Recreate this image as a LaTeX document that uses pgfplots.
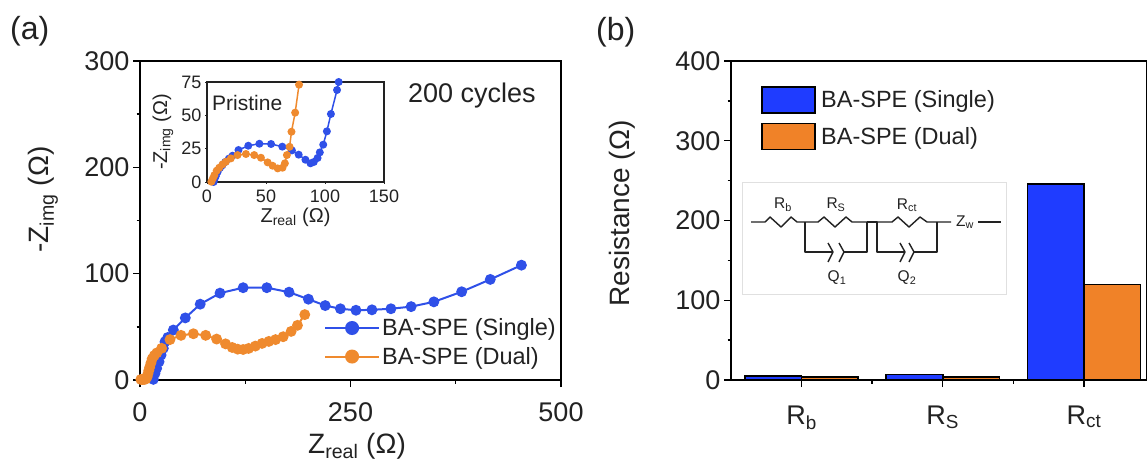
\documentclass[border=0pt]{standalone}
\usepackage{pgfplots}
\pgfplotsset{compat=1.18}
\usepackage{fontspec}
\setmainfont{Liberation Sans}
\definecolor{bluel}{HTML}{2F50E8}
\definecolor{orangel}{HTML}{EF8A2E}
\definecolor{blueb}{HTML}{1F3CFF}
\definecolor{orangeb}{HTML}{F08228}
\definecolor{txt}{HTML}{222222}
\newcommand{\fs}[1]{\fontsize{#1}{#1}\selectfont}
\pgfplotstableread{
x y
453 108
416 94.6
382 83
349 73.5
322 69
298 67
275.5 66
256.5 65.6
238 67
220 70
200 76
177 82.6
150.6 86.8
122.5 86.8
95 81.7
71.5 71.3
53.8 58.4
39.6 47
33 40
29.7 36
27.7 29.8
25 23.5
22.6 17.2
19.8 11
17.8 6.2
15.8 0.6
}\mainsingle
\pgfplotstableread{
x y
195.7 61.5
187 51.4
179.5 45.7
170 40.7
161 38
153 36.3
145 34.4
137 31.9
129 29.7
122.5 28.7
116 29
109.5 30.6
101.6 34
91 38.5
78 42
63.4 43.5
48.7 42
35.6 38
25.7 29.8
20 25.5
17 23
14.5 20
13 16
11.5 12
10.5 9
9.5 6
8.5 3
7 1
5 0.5
3 0.5
1 0.5
}\maindual
\pgfplotstableread{
x y
5.6 0
6.5 2.5
7.5 4.5
9 7.5
11 10.5
13 12.5
15.5 15
18.5 17.5
21.6 19.7
26.7 24
35 27.2
44.4 28.7
54.3 28.5
63.8 26.5
72 23.7
77.7 20.5
83.4 16.7
87.7 14
90.5 15
93.7 18
95.6 22.2
98.5 28
101.6 38
105 51
110.2 69
111.6 75
}\insetsingle
\pgfplotstableread{
x y
3.7 0.2
5 2.7
6.3 5.2
8.2 8.5
10.4 10.7
13.2 13.2
16 15.2
20.2 17.7
25.9 20.2
33 21
40 20.2
45.7 18.2
51.4 14.7
55.6 12.2
59.9 10.2
64 10.7
66 14
67.7 20.2
70 26.4
71.6 37.7
74.7 52
78 73
}\insetdual
\begin{document}
\begin{tikzpicture}[x=1pt,y=1pt]
\useasboundingbox (0,0) rectangle (1147,461);
% panel a
\begin{axis}[at={(140pt,81pt)},anchor=south west,scale only axis,width=421pt,height=319pt,
  xmin=0,xmax=500,ymin=0,ymax=300,
  axis line style={line width=2pt,black},
  tick pos=left,
  xtick={0,250,500},ytick={0,100,200,300},
  minor xtick={125,375},minor ytick={50,150,250},
  tick align=outside,tick style={line width=1.4pt,black},
  major tick length=7pt,minor tick length=3.5pt,
  /pgf/number format/assume math mode=true,
  tick label style={font=\fs{27},text=txt},
  xticklabel style={yshift=-12pt},
  xlabel={Z\textsubscript{real} (Ω)},ylabel={-Z\textsubscript{img} (Ω)},
  label style={text=txt},
  xlabel style={font=\fs{28},at={(axis description cs:0.5,0)},anchor=base,yshift=-73pt,xshift=6.5pt},
  ylabel style={font=\fs{28},at={(axis description cs:0,0.5)},anchor=center,yshift=97pt,xshift=21pt},
  legend style={at={(rel axis cs:1,0)},anchor=south east,draw=none,fill=none,font=\fs{23.5},text=txt,
    xshift=-3pt,yshift=12pt,row sep=6pt,inner sep=0pt,cells={anchor=west}},
  legend image code/.code={
    \draw[#1,mark=none,line width=2pt] (-54pt,0) -- (0pt,0);
    \fill[#1,mark=none] (-27pt,0) circle (6pt);
  },
  clip=false]
\addplot[bluel,line width=2pt,mark=*,mark size=4.4pt,mark options={fill=bluel,draw=bluel}] table {\mainsingle};
\addlegendentry{BA-SPE (Single)}
\addplot[orangel,line width=2pt,mark=*,mark size=4.4pt,mark options={fill=orangel,draw=orangel}] table {\maindual};
\addlegendentry{BA-SPE (Dual)}
\end{axis}
% inset
\begin{axis}[at={(207pt,279pt)},anchor=south west,scale only axis,width=177pt,height=100pt,
  xmin=0,xmax=150,ymin=0,ymax=75,
  axis line style={line width=1.2pt,txt},
  xtick={0,50,100,150},ytick={0,25,50,75},
  tick pos=left,
  tick align=outside,tick style={line width=0.6pt,txt},major tick length=2pt,
  /pgf/number format/assume math mode=true,
  tick label style={font=\fs{18},text=txt},
  xticklabel style={yshift=-2pt},yticklabel style={xshift=0pt},
  xlabel={Z\textsubscript{real} (Ω)},ylabel={-Z\textsubscript{img} (Ω)},
  label style={font=\fs{20},text=txt},
  xlabel style={at={(axis description cs:0.5,0)},anchor=center,yshift=-35pt},
  ylabel style={at={(axis description cs:0,0.5)},anchor=center,yshift=44pt},
  clip=true]
\addplot[bluel,line width=1.5pt,mark=*,mark size=3.2pt,mark options={fill=bluel,draw=bluel}] table {\insetsingle};
\addplot[orangel,line width=1.5pt,mark=*,mark size=3.2pt,mark options={fill=orangel,draw=orangel}] table {\insetdual};
\end{axis}
% panel b
\begin{axis}[at={(731pt,81pt)},anchor=south west,scale only axis,width=416pt,height=319pt,
  xmin=-0.5,xmax=2.447,ymin=0,ymax=400,
  axis line style={line width=2pt,black},
  tick pos=left,
  ybar,bar width=56.6pt,
  xtick={0,1,2},xticklabels={R\textsubscript{b},R\textsubscript{S},R\textsubscript{ct}},
  minor xtick={0.5,1.5},
  ytick={0,100,200,300,400},minor ytick={50,150,250,350},
  tick align=outside,tick style={line width=1.4pt,black},
  major tick length=7pt,minor tick length=3.5pt,
  /pgf/number format/assume math mode=true,
  yticklabel style={font=\fs{27},text=txt},
  xticklabel style={font=\fs{27},text=txt,yshift=-15pt},
  ylabel={Resistance (Ω)},
  label style={font=\fs{28},text=txt},
  ylabel style={at={(axis description cs:0,0.5)},anchor=center,yshift=109pt,xshift=7pt},
  legend style={at={(rel axis cs:0,1)},anchor=north west,draw=none,fill=none,font=\fs{23.5},text=txt,
    xshift=30pt,yshift=-25pt,row sep=9pt,inner sep=0pt,cells={anchor=west}},
  legend image code/.code={
    \draw[draw=black,fill=#1,line width=1.5pt] (-53pt,-13pt) rectangle (0pt,13pt);
    \path (4pt,0);
  },
  clip=false]
\addplot[bar shift=-28.3pt,draw=black,fill=blueb,line width=1.5pt,forget plot] coordinates {(0,5) (1,7) (2,246)};
\addplot[bar shift=28.3pt,draw=black,fill=orangeb,line width=1.5pt,forget plot] coordinates {(0,4) (1,4) (2,120)};
\addlegendimage{blueb}
\addlegendentry{BA-SPE (Single)}
\addlegendimage{orangeb}
\addlegendentry{BA-SPE (Dual)}
\end{axis}
% annotations, pixel coordinates
\begin{scope}[shift={(0,461)},x=1pt,y=-1pt,text=txt]
\node[font=\fs{32},anchor=west,inner sep=0pt] at (10,31) {(a)};
\node[font=\fs{32},anchor=west,inner sep=0pt] at (596,32) {(b)};
\node[font=\fs{27},anchor=west,inner sep=0pt] at (408,96) {200 cycles};
\node[font=\fs{21},anchor=west,inner sep=0pt] at (212,103) {Pristine};
\draw[line width=0.5pt,black!12,fill=white] (742,182) rectangle (1006,294);
\begin{scope}[line width=1.4pt,draw=txt,line join=round]
\draw (751,222) -- (765,222) -- (770,217) -- (781,227) -- (791,217) -- (797,222) -- (805,222)
 -- (818,222) -- (824,217) -- (835,227) -- (846,217) -- (852,222) -- (867,222);
\draw (805,222) -- (805,252) -- (833,252);
\draw (867,222) -- (867,252) -- (844,252);
\draw (877,222) -- (892,222) -- (898,217) -- (909,227) -- (920,217) -- (927,222) -- (951,222);
\draw (867,222) -- (877,222) -- (877,252) -- (905,252);
\draw (937,222) -- (937,252) -- (914,252);
\draw (978,222) -- (1001,222);
\draw (828,243) -- (833,252) -- (828,262);
\draw (839,243) -- (844,252) -- (839,262);
\draw (900,243) -- (905,252) -- (900,262);
\draw (909,243) -- (914,252) -- (909,262);
\end{scope}
\node[font=\fs{15.5}] at (783,205) {R\textsubscript{b}};
\node[font=\fs{15.5}] at (836,205) {R\textsubscript{S}};
\node[font=\fs{15.5}] at (907,205) {R\textsubscript{ct}};
\node[font=\fs{15.5}] at (965,222) {Z\textsubscript{w}};
\node[font=\fs{15.5}] at (837,278) {Q\textsubscript{1}};
\node[font=\fs{15.5}] at (907,278) {Q\textsubscript{2}};
\end{scope}
\end{tikzpicture}
\end{document}
